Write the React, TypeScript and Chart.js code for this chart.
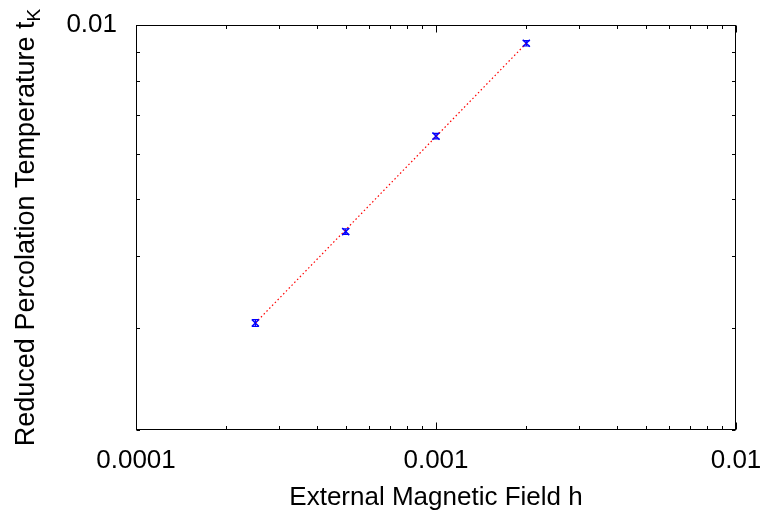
import React, { useEffect, useRef } from "react";
import { Chart, registerables } from "chart.js";

Chart.register(...registerables);

const fieldH = [0.00025, 0.0005, 0.001, 0.002];
const tempK = [0.00306, 0.00440, 0.00643, 0.0093];
const tempErr = [0.00004, 0.00005, 0.00007, 0.0001];
const fitH = [0.00025, 0.002];
const fitT = [0.00306, 0.0093];
const xTickValues = [0.0001, 0.0002, 0.0003, 0.0004, 0.0005, 0.0006, 0.0007, 0.0008, 0.0009, 0.001, 0.002, 0.003, 0.004, 0.005, 0.006, 0.007, 0.008, 0.009, 0.01];
const yTickValues = [0.002, 0.003, 0.004, 0.005, 0.006, 0.007, 0.008, 0.009, 0.01];
const xTitle = "External Magnetic Field h";
const yTitleMain = "Reduced Percolation Temperature t";
const yTitleSub = "K";

const FONT = "'Liberation Sans', Arial, Helvetica, sans-serif";
const FS = 26;
const FS_YTITLE = 27;

const isPow10 = (v: number) => {
  const l = Math.log10(v);
  return Math.abs(l - Math.round(l)) < 1e-9;
};

const framePlugin = {
  id: "frameTicks",
  afterDatasetsDraw(chart: any) {
    const { ctx, chartArea } = chart;
    const { left, right, top, bottom } = chartArea;
    const xs = chart.scales.x;
    const ys = chart.scales.y;
    ctx.save();
    ctx.strokeStyle = "#000";
    ctx.lineWidth = 1;
    const L = Math.round(left) + 0.5, R = Math.round(right) - 0.5;
    const T = Math.round(top) + 0.5, B = Math.round(bottom) - 0.5;
    ctx.strokeRect(L, T, R - L, B - T);
    ctx.beginPath();
    xs.ticks.forEach((t: any) => {
      const p = Math.round(xs.getPixelForValue(t.value)) + 0.5;
      const len = isPow10(t.value) ? 7 : 3.5;
      ctx.moveTo(p, B); ctx.lineTo(p, B - len);
      ctx.moveTo(p, T); ctx.lineTo(p, T + len);
    });
    ys.ticks.forEach((t: any) => {
      const p = Math.round(ys.getPixelForValue(t.value)) + 0.5;
      const len = isPow10(t.value) ? 7 : 3.5;
      ctx.moveTo(L, p); ctx.lineTo(L + len, p);
      ctx.moveTo(R, p); ctx.lineTo(R - len, p);
    });
    ctx.stroke();

    // error bars on the data points
    ctx.strokeStyle = "#0000ff";
    ctx.lineWidth = 1.2;
    ctx.beginPath();
    fieldH.forEach((h, i) => {
      const px = xs.getPixelForValue(h);
      const y1 = ys.getPixelForValue(tempK[i] + tempErr[i]);
      const y2 = ys.getPixelForValue(tempK[i] - tempErr[i]);
      ctx.moveTo(px, y1); ctx.lineTo(px, y2);
      ctx.moveTo(px - 3.5, y1); ctx.lineTo(px + 3.5, y1);
      ctx.moveTo(px - 3.5, y2); ctx.lineTo(px + 3.5, y2);
    });
    ctx.stroke();

    // y-axis title with subscript
    const mainFont = `${FS_YTITLE}px ${FONT}`;
    const subFont = `${Math.round(FS_YTITLE * 0.72)}px ${FONT}`;
    ctx.font = mainFont;
    const w1 = ctx.measureText(yTitleMain).width;
    ctx.font = subFont;
    const w2 = ctx.measureText(yTitleSub).width;
    const total = w1 + w2;
    ctx.translate(34, (top + bottom) / 2);
    ctx.rotate(-Math.PI / 2);
    ctx.fillStyle = "#000";
    ctx.textBaseline = "alphabetic";
    ctx.textAlign = "left";
    ctx.font = mainFont;
    ctx.fillText(yTitleMain, -total / 2, 0);
    ctx.font = subFont;
    ctx.fillText(yTitleSub, -total / 2 + w1, 6);
    ctx.restore();
  },
};

export default function App() {
  const ref = useRef<HTMLCanvasElement | null>(null);
  useEffect(() => {
    if (!ref.current) return;
    const chart = new Chart(ref.current, {
      type: "scatter",
      data: {
        datasets: [
          {
            label: "fit",
            data: fitH.map((h, i) => ({ x: h, y: fitT[i] })),
            showLine: true,
            borderColor: "#ff0000",
            borderWidth: 1.2,
            borderDash: [1.5, 2.5],
            pointRadius: 0,
            fill: false,
          },
          {
            label: "data",
            data: fieldH.map((h, i) => ({ x: h, y: tempK[i] })),
            showLine: false,
            pointStyle: "crossRot",
            pointRadius: 5,
            borderColor: "#0000ff",
            backgroundColor: "#0000ff",
            pointBorderWidth: 1.5,
          },
        ],
      },
      options: {
        responsive: false,
        animation: false,
        layout: { padding: { top: 25, right: 25, left: 0, bottom: 0 } },
        plugins: { legend: { display: false }, tooltip: { enabled: false } },
        scales: {
          x: {
            type: "logarithmic",
            min: 0.0001,
            max: 0.01,
            afterBuildTicks: (s: any) => {
              s.ticks = xTickValues.map((v) => ({ value: v }));
            },
            afterFit: (s: any) => {
              s.height = 80;
              s.paddingLeft = 0;
              s.paddingRight = 0;
            },
            grid: { display: false, drawTicks: false },
            border: { display: false },
            ticks: {
              autoSkip: false,
              maxRotation: 0,
              padding: 15,
              color: "#000",
              font: { family: FONT, size: FS },
              callback: (v: any) => (isPow10(Number(v)) ? String(Number(v)) : ""),
            },
            title: {
              display: true,
              text: xTitle,
              color: "#000",
              font: { family: FONT, size: FS },
              padding: { top: 0, bottom: -3 },
            },
          },
          y: {
            type: "logarithmic",
            min: 0.002,
            max: 0.01,
            afterBuildTicks: (s: any) => {
              s.ticks = yTickValues.map((v) => ({ value: v }));
            },
            afterFit: (s: any) => {
              s.width = 136;
              s.paddingTop = 0;
              s.paddingBottom = 0;
            },
            grid: { display: false, drawTicks: false },
            border: { display: false },
            ticks: {
              autoSkip: false,
              padding: 19,
              color: "#000",
              font: { family: FONT, size: FS },
              callback: (v: any) => (isPow10(Number(v)) ? String(Number(v)) : ""),
            },
          },
        },
      },
      plugins: [framePlugin],
    });
    return () => chart.destroy();
  }, []);
  return (
    <div style={{ position: "fixed", left: 0, top: 0, width: 761, height: 510, background: "#fff" }}>
      <canvas ref={ref} width={761} height={510} style={{ display: "block" }} />
    </div>
  );
}
